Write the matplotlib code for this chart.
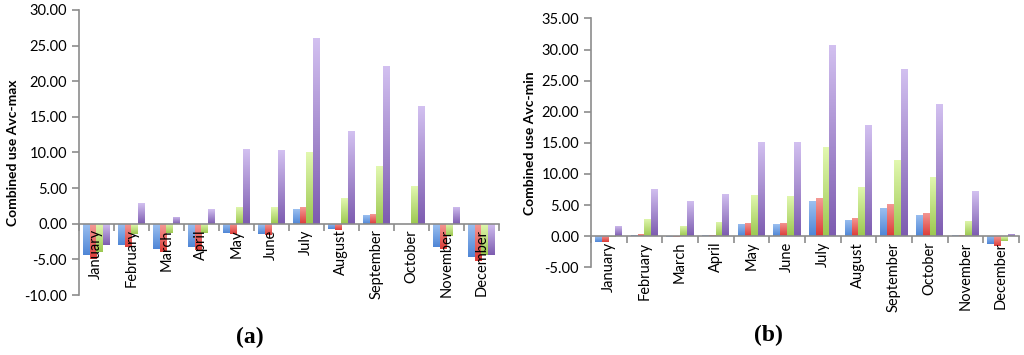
import numpy as np
import matplotlib
matplotlib.use("Agg")
import matplotlib.pyplot as plt
from matplotlib.colors import LinearSegmentedColormap

plt.rcParams['font.family'] = ['Lato', 'DejaVu Sans']

# --- data ---
months = ["January", "February", "March", "April", "May", "June", "July",
          "August", "September", "October", "November", "December"]

# panel (a): Combined use Avc-max
a_blue = [-4.4, -3.05, -3.5, -3.3, -1.3, -1.4, 2.05, -0.75, 1.25, -0.1, -3.2, -4.7]
a_red = [-4.9, -3.3, -3.9, -3.7, -1.45, -1.55, 2.35, -0.9, 1.35, -0.1, -3.55, -5.2]
a_green = [-4.0, -1.4, -1.3, -1.3, 2.4, 2.3, 10.1, 3.6, 8.1, 5.3, -1.7, -4.4]
a_purple = [-3.0, 2.9, 1.0, 2.1, 10.5, 10.3, 26.0, 13.0, 22.1, 16.5, 2.4, -4.35]

# panel (b): Combined use Avc-min
b_blue = [-0.9, 0.25, -0.1, 0.15, 2.0, 1.9, 5.6, 2.6, 4.6, 3.4, 0.15, -1.3]
b_red = [-1.0, 0.3, -0.1, 0.15, 2.2, 2.2, 6.1, 2.9, 5.2, 3.8, 0.15, -1.5]
b_green = [-0.2, 2.8, 1.7, 2.3, 6.6, 6.5, 14.3, 7.9, 12.3, 9.5, 2.5, -0.8]
b_purple = [1.7, 7.6, 5.7, 6.8, 15.1, 15.1, 30.8, 17.9, 26.9, 21.2, 7.2, 0.4]

# (light top, dark bottom) for the Excel style gradient
colors = [("#9cc0f0", "#4f86d6"),
          ("#f49a96", "#dc3c38"),
          ("#e2f8b0", "#9cc850"),
          ("#d2c0f0", "#7d5cb0")]


def grad_bars(ax, x, vals, w, cols):
    cmap = LinearSegmentedColormap.from_list("g", [cols[1], cols[0]])
    bars = ax.bar(x, vals, w, color=cols[1], edgecolor="none", zorder=1)
    for b in bars:
        x0, y0 = b.get_x(), b.get_y()
        x1, y1 = x0 + b.get_width(), y0 + b.get_height()
        lo, hi = min(y0, y1), max(y0, y1)
        if hi - lo <= 0:
            continue
        img = np.linspace(0, 1, 64).reshape(-1, 1)
        im = ax.imshow(img, cmap=cmap, origin="lower", aspect="auto",
                       extent=(x0, x1, lo, hi), zorder=1.5, interpolation="bilinear")
        im.set_clip_path(b)
        b.set_facecolor("none")
    return bars


def panel(ax, series, ylim, step, ylabel):
    x = np.arange(len(months))
    w = 0.19
    for i, (vals, cols) in enumerate(zip(series, colors)):
        grad_bars(ax, x + (i - 1.5) * w, vals, w, cols)
    ax.set_xlim(-0.5, len(months) - 0.5)
    ax.set_ylim(*ylim)
    ticks = np.arange(ylim[0], ylim[1] + 0.1, step)
    ax.set_yticks(ticks)
    ax.set_yticklabels([f"{v:.2f}" for v in ticks], fontsize=10.5)
    ax.set_ylabel(ylabel, fontsize=10, fontweight="bold")
    ax.spines["top"].set_visible(False)
    ax.spines["right"].set_visible(False)
    ax.spines["bottom"].set_position(("data", 0))
    for s in ("left", "bottom"):
        ax.spines[s].set_color("#8c8c8c")
        ax.spines[s].set_linewidth(1.2)
    ax.set_xticks(x)
    ax.set_xticklabels(months, rotation=90, fontsize=10.5)
    ax.set_xticks(np.arange(-0.5, len(months), 1), minor=True)
    ax.tick_params(axis="x", which="major", length=0, pad=4)
    ax.tick_params(axis="x", which="minor", length=5, color="#8c8c8c", width=1.2)
    ax.tick_params(axis="y", length=5, color="#8c8c8c", width=1.2)
    ax.set_axisbelow(False)


fig = plt.figure(figsize=(10.24, 3.55), dpi=100)
ax1 = fig.add_axes([0.077, 0.169, 0.410, 0.803])
ax2 = fig.add_axes([0.577, 0.247, 0.418, 0.701])

panel(ax1, [a_blue, a_red, a_green, a_purple], (-10, 30), 5, "Combined use Avc-max")
panel(ax2, [b_blue, b_red, b_green, b_purple], (-5, 35), 5, "Combined use Avc-min")

fig.text(0.244, 0.05, "(a)", ha="center", va="center", fontsize=17,
         fontweight="bold", family="Liberation Serif")
fig.text(0.750, 0.055, "(b)", ha="center", va="center", fontsize=17,
         fontweight="bold", family="Liberation Serif")

fig.savefig("out.png", dpi=100)
